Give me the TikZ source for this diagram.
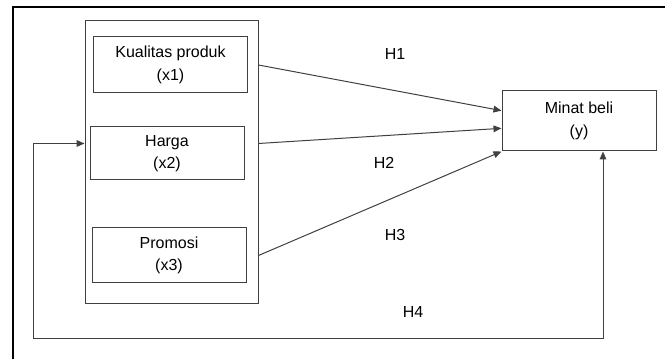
\documentclass[tikz,border=0pt]{standalone}
\usepackage{fontspec}
\setmainfont{Liberation Sans}
\usepackage{tikz}
\usetikzlibrary{positioning}
\usetikzlibrary{calc,arrows.meta}

\tikzset{
	varbox/.style={draw=black!75, line width=0.75pt, align=center, inner sep=0pt,
		minimum width=115.5pt, font=\fontsize{12}{17}\selectfont},
	conn/.style={draw=black!75, line width=0.75pt, -{Triangle[length=6pt,width=5pt]}},
	hlabel/.style={font=\fontsize{12}{14}\selectfont},
}

\begin{document}
\begin{tikzpicture}[x=0.75pt,y=-0.75pt]
	
	\useasboundingbox (0,0) rectangle (665,359);
	
	% NOTE: only the left and top sides of the outer frame are visible
	\draw[line width=1.5pt] (12.5,359) -- (12.5,7) -- (665,7);
	
	% the box that holds the three variables
	\node[varbox, minimum width=129.75pt, minimum height=212.25pt] (Vars) at (171.5,162.5) {};
	
	\node[varbox, minimum height=42pt] (X1) at (170.5,65) {Kualitas produk\\(x1)};
	\node[varbox, minimum height=39.75pt] (X2) at (167,153.5) {Harga\\(x2)};
	\node[varbox, minimum height=41.25pt] (X3) at (169,255.5) {Promosi\\(x3)};
	
	\node[varbox, minimum height=45pt] (Y) at (579,121) {Minat beli\\(y)};
	
	% Where the connectors leave and meet the boxes
	\coordinate (X1Out) at (Vars.east |- X1.east);
	\coordinate (X2Out) at ($(Vars.east |- X2.east)+(0,-10)$);
	\coordinate (X3Out) at (Vars.east |- X3.east);
	\coordinate (H1In) at ($(Y.north west)!0.33!(Y.south west)$);
	\coordinate (H2In) at ($(Y.north west)!0.62!(Y.south west)$);
	\coordinate (H4In) at ($(Y.south)+(24,0)$);
	\coordinate (VarsIn) at (Vars.west |- X2Out);
	\coordinate (Corner) at (33,339);
	
	\node[hlabel] (H1) at (395,54) {H1};
	\node[hlabel] (H2) at (384,163) {H2};
	\node[hlabel] (H3) at (395,235) {H3};
	\node[hlabel] (H4) at (413,312) {H4};
	
	%%%%%%%%%%%%%%%%%%%%%%%%%%%%%%%%%%%%%%%%%%%%%%%%%%%%%%%%%%%%%%
	
	\draw[conn] (X1Out) -- (H1In);
	\draw[conn] (X2Out) -- (H2In);
	\draw[conn] (X3Out) -- (Y.south west);
	
	% H4 runs round the bottom, with a tip at each end
	\draw[conn, {Triangle[length=6pt,width=5pt]}-{Triangle[length=6pt,width=5pt]}]
		(VarsIn) -| (Corner) -| (H4In);
	
\end{tikzpicture}
\end{document}
